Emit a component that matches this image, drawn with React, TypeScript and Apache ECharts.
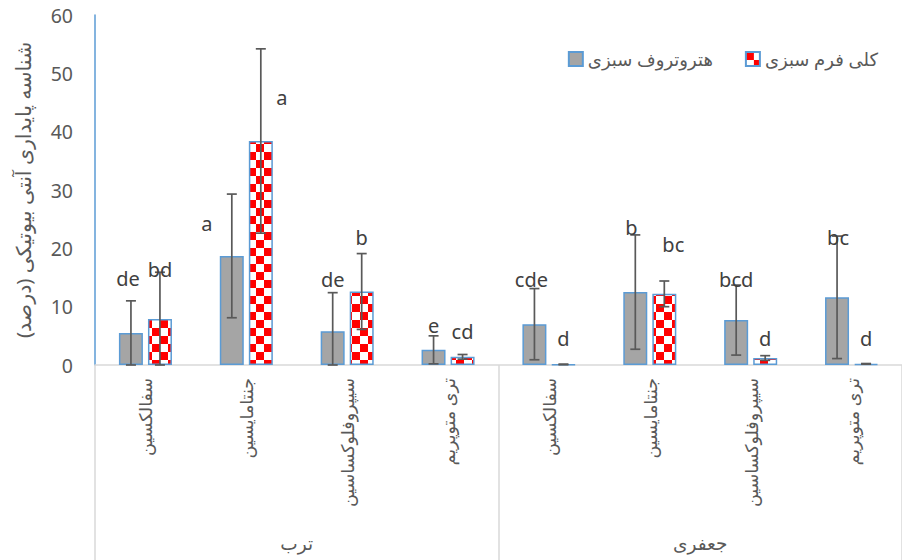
import React, { useEffect, useRef } from "react";
import * as echarts from "echarts";

// ---------- data ----------
const categories = [
  "سفالکسین",
  "جنتامایسین",
  "سیپروفلوکساسین",
  "تری متوپریم",
  "سفالکسین",
  "جنتامایسین",
  "سیپروفلوکساسین",
  "تری متوپریم",
];
const groups = ["ترب", "جعفری"];
const seriesNames = ["هتروتروف سبزی", "کلی فرم سبزی"];
const yAxisTitle = "شناسه پایداری آنتی بیوتیکی (درصد)";

const heteroValues = [5.5, 18.7, 5.8, 2.6, 7.0, 12.5, 7.7, 11.6];
const heteroErrors = [5.5, 10.6, 6.6, 2.4, 6.1, 9.8, 6.0, 10.5];
const coliValues = [7.9, 38.4, 12.6, 1.4, 0.1, 12.2, 1.2, 0.2];
const coliErrors = [8.0, 15.8, 6.5, 0.4, 0.05, 2.2, 0.4, 0.05];

const heteroLetters = ["de", "a", "de", "e", "cde", "b", "bcd", "bc"];
const coliLetters = ["bd", "a", "b", "cd", "d", "bc", "d", "d"];
// letter anchors (value units)
const heteroLetterAt = [14.9, 24.3, 14.7, 6.7, 14.7, 23.5, 14.6, 21.8];
const coliLetterAt = [16.3, 45.8, 21.8, 5.8, 4.5, 20.7, 4.6, 4.5];

const yMin = 0;
const yMax = 60;
const yInterval = 10;

// ---------- style ----------
const FONT = '"Noto Sans", "DejaVu Sans", sans-serif';
const TEXT = "#595959";
const BORDER = "#5B9BD5";
const GRAY = "#A5A5A5";
const BAR_OFFSET = 14.5;
const heteroDx = [-3, -25, 0, 0, -3, -4, 0, 1];
const coliDx = [0, 21, 0, 0, 0, 9, 0, 0];

function makeChecker(): HTMLCanvasElement {
  const s = 8;
  const c = document.createElement("canvas");
  c.width = 2 * s;
  c.height = 2 * s;
  const ctx = c.getContext("2d")!;
  ctx.fillStyle = "#FFFFFF";
  ctx.fillRect(0, 0, 2 * s, 2 * s);
  ctx.fillStyle = "#FF0000";
  ctx.fillRect(0, 0, s, s);
  ctx.fillRect(s, s, s, s);
  return c;
}

function errorSeries(
  values: number[],
  errors: number[],
  letters: string[],
  letterAt: number[],
  dx: number[],
  side: number
) {
  return {
    type: "custom",
    xAxisIndex: 0,
    yAxisIndex: 0,
    silent: true,
    z: 10,
    data: values.map((v, i) => [i, v, errors[i], letterAt[i]]),
    encode: { x: 0, y: 1 },
    renderItem: (params: any, api: any) => {
      const i = api.value(0);
      const v = api.value(1);
      const e = api.value(2);
      const la = api.value(3);
      const top = api.coord([i, v + e]);
      const bot = api.coord([i, Math.max(0, v - e)]);
      const x = top[0] + side * BAR_OFFSET;
      const lp = api.coord([i, la]);
      const ls = { stroke: "#595959", lineWidth: 1.7 };
      const cap = 5;
      return {
        type: "group",
        children: [
          { type: "line", shape: { x1: x, y1: top[1], x2: x, y2: bot[1] }, style: ls },
          { type: "line", shape: { x1: x - cap, y1: top[1], x2: x + cap, y2: top[1] }, style: ls },
          { type: "line", shape: { x1: x - cap, y1: bot[1], x2: x + cap, y2: bot[1] }, style: ls },
          {
            type: "text",
            x: x + dx[params.dataIndex],
            y: lp[1],
            style: {
              text: letters[params.dataIndex],
              fill: "#404040",
              font: `20px ${FONT}`,
              align: "center",
              verticalAlign: "middle",
            },
          },
        ],
      };
    },
  };
}

export default function App() {
  const ref = useRef<HTMLDivElement>(null);

  useEffect(() => {
    if (!ref.current) return;
    const chart = echarts.init(ref.current, undefined, { renderer: "svg" });
    const checker = makeChecker();
    const checkerFill: any = { image: checker, repeat: "repeat", imageWidth: 16, imageHeight: 16 };

    const option: any = {
      animation: false,
      backgroundColor: "#FFFFFF",
      textStyle: { fontFamily: FONT },
      grid: { left: 95, top: 15, width: 814, height: 350, containLabel: false },
      legend: {
        data: seriesNames,
        right: 19,
        top: 45,
        width: 400,
        itemWidth: 14,
        itemHeight: 14,
        itemGap: 32,
        icon: "rect",
        textStyle: { fontSize: 18, color: TEXT, fontFamily: FONT },
      },
      xAxis: [
        {
          type: "category",
          data: categories,
          position: "bottom",
          axisLine: { show: true, lineStyle: { color: "#D9D9D9", width: 1.5 } },
          axisTick: { show: false },
          axisLabel: {
            interval: 0,
            rotate: 90,
            margin: 13,
            fontSize: 17.5,
            color: TEXT,
            fontFamily: FONT,
          },
          splitLine: { show: false },
        },
        {
          type: "category",
          data: groups,
          position: "bottom",
          axisLine: { show: false },
          axisTick: { show: true, length: 195, lineStyle: { color: "#D9D9D9", width: 1.5 } },
          axisLabel: { interval: 0, margin: 168, fontSize: 18.5, color: TEXT, fontFamily: FONT },
          splitLine: { show: false },
        },
      ],
      yAxis: {
        type: "value",
        min: yMin,
        max: yMax,
        interval: yInterval,
        name: yAxisTitle,
        nameLocation: "middle",
        nameGap: 62,
        nameTextStyle: { fontSize: 20.5, color: TEXT, fontFamily: FONT },
        axisLine: { show: true, lineStyle: { color: BORDER, width: 1.5 } },
        axisTick: { show: false },
        splitLine: { show: false },
        axisLabel: { fontSize: 19.5, color: TEXT, margin: 22, fontFamily: FONT },
      },
      series: [
        {
          name: seriesNames[0],
          type: "bar",
          xAxisIndex: 0,
          yAxisIndex: 0,
          data: heteroValues,
          barWidth: 24,
          barGap: "21%",
          itemStyle: { color: GRAY, borderColor: BORDER, borderWidth: 1.5 },
        },
        {
          name: seriesNames[1],
          type: "bar",
          xAxisIndex: 0,
          yAxisIndex: 0,
          data: coliValues,
          barWidth: 24,
          barGap: "21%",
          itemStyle: { color: checkerFill, borderColor: BORDER, borderWidth: 1.5 },
        },
        errorSeries(heteroValues, heteroErrors, heteroLetters, heteroLetterAt, heteroDx, -1),
        errorSeries(coliValues, coliErrors, coliLetters, coliLetterAt, coliDx, 1),
      ],
    };
    chart.setOption(option);
    return () => chart.dispose();
  }, []);

  return (
    <div
      ref={ref}
      style={{ position: "fixed", left: 0, top: 0, width: 902, height: 560, background: "#fff" }}
    />
  );
}
